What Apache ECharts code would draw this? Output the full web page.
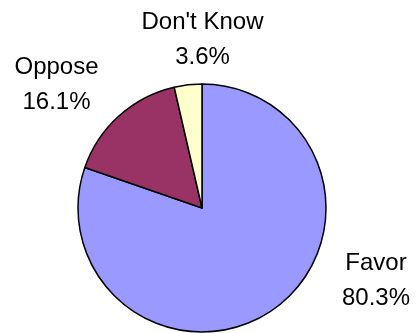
<!DOCTYPE html>
<html>
<head>
<meta charset="utf-8">
<script src="https://cdn.jsdelivr.net/npm/echarts@6/dist/echarts.min.js"></script>
<style>html,body{margin:0;padding:0;background:#fff}#c{width:418px;height:333px}</style>
</head>
<body>
<div id="c"></div>
<script>
var categories = ["Favor", "Oppose", "Don't Know"];
var values = [80.3, 16.1, 3.6];
var colors = ["#9999FF", "#993366", "#FFFFCC"];
var labelCenters = [[376, 281], [56.5, 84.5], [202.5, 39.5]];

var chart = echarts.init(document.getElementById('c'), null, {renderer: 'canvas'});
chart.setOption({
  backgroundColor: '#ffffff',
  animation: false,
  series: [{
    type: 'pie',
    center: [202, 208],
    radius: [0, 124],
    startAngle: 90,
    clockwise: true,
    avoidLabelOverlap: false,
    data: categories.map(function (c, i) {
      return {name: c, value: values[i], itemStyle: {color: colors[i]}};
    }),
    itemStyle: {borderColor: '#000', borderWidth: 1.5},
    label: {
      show: true,
      position: 'outside',
      alignTo: 'none',
      overflow: 'none',
      width: 200,
      formatter: function (p) { return p.name + '\n' + p.value.toFixed(1) + '%'; },
      fontFamily: 'Liberation Sans, Arial, sans-serif',
      fontSize: 24,
      lineHeight: 35,
      color: '#000',
      align: 'center'
    },
    labelLine: {show: false},
    labelLayout: function (params) {
      var c = labelCenters[params.dataIndex];
      return {x: c[0], y: c[1], align: 'center', verticalAlign: 'middle'};
    },
    emphasis: {disabled: true}
  }]
});
</script>
</body>
</html>
